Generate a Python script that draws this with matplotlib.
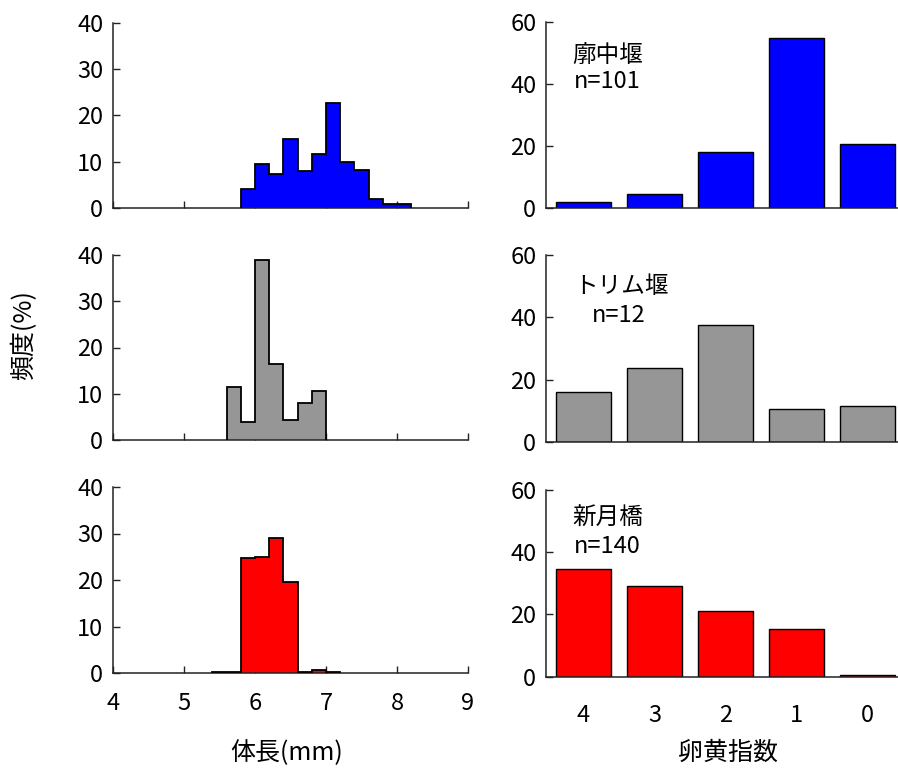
import numpy as np
import matplotlib
matplotlib.use("Agg")
import matplotlib.pyplot as plt

plt.rcParams['font.family'] = ['Noto Sans CJK JP', 'DejaVu Sans']

# ---- data ----
sites = ['廓中堰', 'トリム堰', '新月橋']
site_n = ['n=101', 'n=12', 'n=140']
colors = ['#0000FF', '#969696', '#FF0000']

len_bins = [5.4, 5.6, 5.8, 6.0, 6.2, 6.4, 6.6, 6.8, 7.0, 7.2, 7.4, 7.6, 7.8, 8.0]
bin_width = 0.2
len_kochu = [0, 0, 4.1, 9.5, 7.3, 15.0, 8.0, 11.7, 22.6, 9.9, 8.3, 2.0, 0.9, 0.9]
len_torimu = [0, 11.4, 3.8, 39.0, 16.4, 4.3, 8.1, 10.7, 0, 0, 0, 0, 0, 0]
len_shingetsu = [0.3, 0.3, 24.7, 25.0, 29.1, 19.6, 0.2, 0.6, 0.2, 0, 0, 0, 0, 0]

yolk_index = ['4', '3', '2', '1', '0']
yolk_kochu = [2.1, 4.7, 18.2, 54.6, 20.6]
yolk_torimu = [15.9, 23.7, 37.6, 10.6, 11.5]
yolk_shingetsu = [34.6, 29.2, 21.0, 15.3, 0.6]

len_data = [len_kochu, len_torimu, len_shingetsu]
yolk_data = [yolk_kochu, yolk_torimu, yolk_shingetsu]

W, H = 898, 771
fig = plt.figure(figsize=(W / 100, H / 100), dpi=100)

def px(x0, y_top, x1, y_bot):
    return [x0 / W, 1 - y_bot / H, (x1 - x0) / W, (y_bot - y_top) / H]

left_rects = [px(113, 23, 468, 208), px(113, 255, 468, 440), px(113, 487, 468, 673)]
right_rects = [px(546, 21.7, 898, 208.3), px(546, 255, 898, 442), px(546, 490, 898, 676.7)]
label_pos = [((0.176, 0.82), (0.173, 0.678)),
             ((0.215, 0.834), (0.207, 0.674)),
             ((0.176, 0.85), (0.173, 0.696))]

tick_fs = 17
ann_fs = 17

def style(ax):
    for s in ['top', 'right']:
        ax.spines[s].set_visible(False)
    for s in ['left', 'bottom']:
        ax.spines[s].set_linewidth(1.1)
        ax.spines[s].set_color('#222222')
    ax.tick_params(direction='in', length=5, width=1.0, color='#222222',
                   labelsize=tick_fs, pad=7)

for i in range(3):
    # histogram of body length (filled step outline)
    ax = fig.add_axes(left_rects[i])
    style(ax)
    vals = np.array(len_data[i], dtype=float)
    starts = np.array(len_bins)
    nz = np.nonzero(vals)[0]
    v = vals[nz[0]:nz[-1] + 1]
    e = np.append(starts[nz[0]:nz[-1] + 1], starts[nz[-1]] + bin_width)
    ax.stairs(v, e, fill=True, facecolor=colors[i], edgecolor='none', zorder=2)
    ax.stairs(v, e, baseline=0, fill=False, color='black', linewidth=1.3, zorder=3)
    ax.set_xlim(4, 9)
    ax.set_ylim(0, 40)
    ax.set_xticks([4, 5, 6, 7, 8, 9])
    ax.set_yticks([0, 10, 20, 30, 40])
    if i < 2:
        ax.tick_params(labelbottom=False)
    else:
        ax.tick_params(axis='x', pad=14)

    # yolk index bars
    ax2 = fig.add_axes(right_rects[i])
    style(ax2)
    xpos = np.arange(len(yolk_index))
    ax2.bar(xpos, yolk_data[i], width=0.775, color=colors[i],
            edgecolor='black', linewidth=1.0)
    ax2.set_xlim(-0.528, 4.43)
    ax2.set_ylim(0, 60)
    ax2.set_yticks([0, 20, 40, 60])
    ax2.set_xticks(xpos)
    ax2.set_xticklabels(yolk_index)
    ax2.tick_params(axis='x', length=0)
    if i < 2:
        ax2.tick_params(labelbottom=False)
    else:
        ax2.tick_params(axis='x', pad=20)
    (tx, ty), (nx, ny) = label_pos[i]
    ax2.text(tx, ty, sites[i], transform=ax2.transAxes, ha='center', va='center',
             fontsize=ann_fs)
    ax2.text(nx, ny, site_n[i], transform=ax2.transAxes, ha='center', va='center',
             fontsize=ann_fs)

fig.text(287 / W, 1 - 753 / H, '体長(mm)', ha='center', va='center', fontsize=18)
fig.text(728 / W, 1 - 753 / H, '卵黄指数', ha='center', va='center', fontsize=18)
fig.text(24 / W, 1 - 335 / H, '頻度(%)', ha='center', va='center', fontsize=18,
         rotation=90)

fig.savefig('out.png', dpi=100)
